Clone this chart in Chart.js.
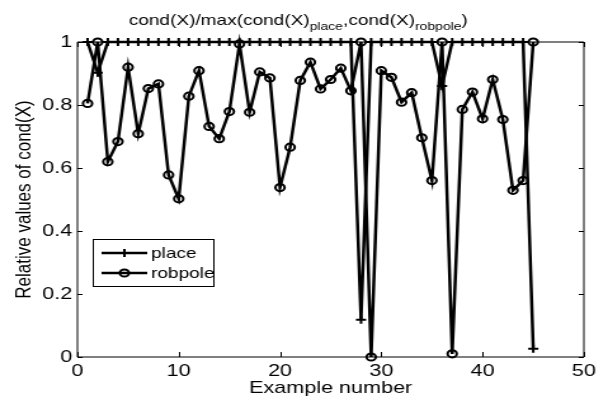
<!DOCTYPE html>
<html>
<head>
<meta charset="utf-8">
<script src="https://cdn.jsdelivr.net/npm/chart.js@4.4.1/dist/chart.umd.min.js"></script>
<style>
    html, body {
        margin: 0;
        padding: 0;
        background: #ffffff;
        overflow: hidden;
    }

    /* the reference figure is stretched sideways, so the chart is drawn narrow and scaled out */
    #wrap {
        position: absolute;
        left: 0;
        top: 0;
        width: 479px;
        height: 403px;
        transform: scaleX(1.2693);
        transform-origin: 0 0;
    }
</style>
</head>
<body>
<div id="wrap">
    <canvas id="chart" width="479" height="403"></canvas>
</div>

<script>
const exampleNumbers = [
    1, 2, 3, 4, 5, 6, 7, 8, 9, 10,
    11, 12, 13, 14, 15, 16, 17, 18, 19, 20,
    21, 22, 23, 24, 25, 26, 27, 28, 29, 30,
    31, 32, 33, 34, 35, 36, 37, 38, 39, 40,
    41, 42, 43, 44, 45
];

const placeValues = [
    1, 0.902, 1, 1, 1, 1, 1, 1, 1, 1,
    1, 1, 1, 1, 1, 1, 1, 1, 1, 1,
    1, 1, 1, 1, 1, 1, 1, 0.118, 1, 1,
    1, 1, 1, 1, 1, 0.860, 1, 1, 1, 1,
    1, 1, 1, 1, 0.026
];

const robpoleValues = [
    0.805, 1, 0.620, 0.684, 0.920, 0.709, 0.852, 0.867, 0.578, 0.502,
    0.828, 0.909, 0.732, 0.693, 0.779, 0.994, 0.777, 0.905, 0.886, 0.538,
    0.666, 0.878, 0.936, 0.851, 0.881, 0.917, 0.845, 1, 0, 0.909,
    0.888, 0.809, 0.839, 0.696, 0.560, 1, 0.010, 0.786, 0.841, 0.756,
    0.881, 0.754, 0.529, 0.560, 1
];

const xTickValues = [0, 10, 20, 30, 40, 50];
const xTickLabels = ['0', '10', '20', '30', '40', '50'];
const yTickValues = [0, 0.2, 0.4, 0.6, 0.8, 1];
const yTickLabels = ['0', '0.2', '0.4', '0.6', '0.8', '1'];

const seriesNames = ['place', 'robpole'];
const axisTitleX = 'Example number';
const axisTitleY = 'Relative values of cond(X)';

const FONT = '"Liberation Sans", Arial, Helvetica, sans-serif';

function toPoints(values) {
    return values.map((v, i) => ({ x: exampleNumbers[i], y: v }));
}

function nearestLabel(values, labels, value) {
    for (let i = 0; i < values.length; i++) {
        if (Math.abs(values[i] - value) < 1e-6) {
            return labels[i];
        }
    }
    return '';
}

// title with subscripts: cond(X)/max(cond(X)_place,cond(X)_robpole)
const titlePlugin = {
    id: 'subTitle',
    afterDraw(chart) {
        const ctx = chart.ctx;
        const parts = [
            ['cond(X)/max(cond(X)', false],
            ['place', true],
            [',cond(X)', false],
            ['robpole', true],
            [')', false]
        ];
        const mainFont = '15px ' + FONT;
        const subFont = '11px ' + FONT;

        ctx.save();
        let width = 0;
        parts.forEach(p => {
            ctx.font = p[1] ? subFont : mainFont;
            width += ctx.measureText(p[0]).width;
        });

        let x = 235 - width / 2;
        ctx.fillStyle = '#000';
        ctx.textBaseline = 'alphabetic';
        ctx.textAlign = 'left';
        parts.forEach(p => {
            ctx.font = p[1] ? subFont : mainFont;
            ctx.fillText(p[0], x, p[1] ? 30 : 25);
            x += ctx.measureText(p[0]).width;
        });
        ctx.restore();
    }
};

// matlab style box with inward ticks on all sides
const framePlugin = {
    id: 'frame',
    afterDraw(chart) {
        const ctx = chart.ctx;
        const area = chart.chartArea;
        const xs = chart.scales.x;
        const ys = chart.scales.y;

        ctx.save();
        ctx.strokeStyle = '#000';
        ctx.lineWidth = 1;
        ctx.beginPath();
        ctx.rect(area.left, area.top, area.right - area.left, area.bottom - area.top);

        xTickValues.forEach(v => {
            const px = Math.round(xs.getPixelForValue(v)) + 0.5;
            ctx.moveTo(px, area.bottom);
            ctx.lineTo(px, area.bottom - 5);
            ctx.moveTo(px, area.top);
            ctx.lineTo(px, area.top + 5);
        });

        yTickValues.forEach(v => {
            const py = Math.round(ys.getPixelForValue(v)) + 0.5;
            ctx.moveTo(area.left, py);
            ctx.lineTo(area.left + 4, py);
            ctx.moveTo(area.right, py);
            ctx.lineTo(area.right - 4, py);
        });
        ctx.stroke();
        ctx.restore();
    }
};

const legendPlugin = {
    id: 'boxLegend',
    afterDraw(chart) {
        const ctx = chart.ctx;
        const box = { left: 73, top: 239, right: 168, bottom: 286 };
        const rows = [253, 273];

        ctx.save();
        ctx.fillStyle = '#fff';
        ctx.fillRect(box.left, box.top, box.right - box.left, box.bottom - box.top);
        ctx.strokeStyle = '#000';
        ctx.lineWidth = 1;
        ctx.strokeRect(box.left + 0.5, box.top + 0.5, box.right - box.left, box.bottom - box.top);

        seriesNames.forEach((name, i) => {
            const y = rows[i];

            ctx.lineWidth = 2.5;
            ctx.beginPath();
            ctx.moveTo(80, y);
            ctx.lineTo(116, y);
            ctx.stroke();

            ctx.lineWidth = 2;
            ctx.beginPath();
            if (i === 0) {
                ctx.moveTo(98, y - 4);
                ctx.lineTo(98, y + 4);
                ctx.moveTo(94, y);
                ctx.lineTo(102, y);
            } else {
                ctx.arc(98, y, 3.6, 0, Math.PI * 2);
            }
            ctx.stroke();

            ctx.fillStyle = '#000';
            ctx.font = '15px ' + FONT;
            ctx.textBaseline = 'middle';
            ctx.fillText(name, 119, y + 1);
        });
        ctx.restore();
    }
};

const ctx = document.getElementById('chart').getContext('2d');

const chart = new Chart(ctx, {

    type: 'line',

    data: {
        datasets: [{
            label: seriesNames[0],
            data: toPoints(placeValues),
            borderColor: '#000',
            borderWidth: 2.5,
            pointStyle: 'cross',
            pointRadius: 4,
            pointBorderWidth: 2,
            pointBorderColor: '#000',
            pointBackgroundColor: '#000',
            fill: false,
            tension: 0,
            clip: false,
            order: 1
        }, {
            label: seriesNames[1],
            data: toPoints(robpoleValues),
            borderColor: '#000',
            borderWidth: 2.5,
            pointStyle: 'circle',
            pointRadius: 3.6,
            pointBorderWidth: 2,
            pointBorderColor: '#000',
            pointBackgroundColor: 'rgba(0,0,0,0)',
            fill: false,
            tension: 0,
            clip: false,
            order: 0
        }]
    },

    options: {

        responsive: false,
        animation: false,
        devicePixelRatio: 1,

        layout: {
            padding: { top: 42, right: 19, bottom: 0, left: 0 }
        },

        plugins: {
            legend: { display: false },
            tooltip: { enabled: false }
        },

        scales: {
            x: {
                type: 'linear',
                min: 0,
                max: 50,
                afterBuildTicks: scale => {
                    scale.ticks = xTickValues.map(v => ({ value: v }));
                },
                afterFit: scale => {
                    scale.height = 46;
                },
                grid: { display: true, drawOnChartArea: false, drawTicks: false },
                border: { display: false },
                ticks: {
                    color: '#000',
                    padding: 4,
                    maxRotation: 0,
                    font: { family: FONT, size: 17 },
                    callback: value => nearestLabel(xTickValues, xTickLabels, value)
                },
                title: {
                    display: true,
                    text: axisTitleX,
                    color: '#000',
                    font: { family: FONT, size: 17 },
                    padding: { top: 0, bottom: 4 }
                }
            },
            y: {
                type: 'linear',
                min: 0,
                max: 1,
                afterBuildTicks: scale => {
                    scale.ticks = yTickValues.map(v => ({ value: v }));
                },
                afterFit: scale => {
                    scale.width = 61;
                },
                grid: { display: true, drawOnChartArea: false, drawTicks: false },
                border: { display: false },
                ticks: {
                    color: '#000',
                    padding: 4,
                    font: { family: FONT, size: 17 },
                    callback: value => nearestLabel(yTickValues, yTickLabels, value)
                },
                title: {
                    display: true,
                    text: axisTitleY,
                    color: '#000',
                    font: { family: FONT, size: 17 },
                    padding: { top: 9, bottom: 0 }
                }
            }
        }
    },

    plugins: [framePlugin, legendPlugin, titlePlugin]
});
</script>
</body>
</html>
